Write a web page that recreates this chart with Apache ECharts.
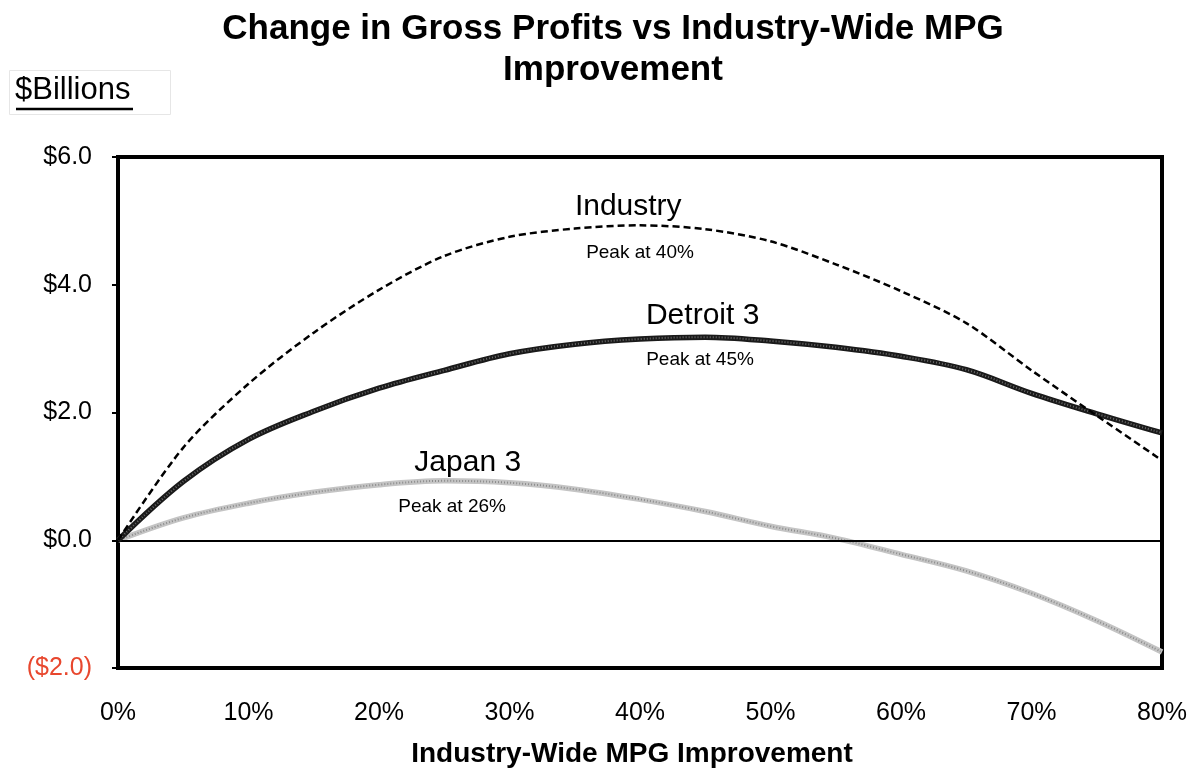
<!DOCTYPE html>
<html>
<head>
<meta charset="utf-8">
<script src="https://cdn.jsdelivr.net/npm/echarts@6/dist/echarts.min.js"></script>
<style>
html,body{margin:0;padding:0;background:#fff;}
#chart{width:1194px;height:770px;}
</style>
</head>
<body>
<div id="chart"></div>
<script>
// ---- data ----
const mpgImprovement = [0, 5, 10, 15, 20, 25, 30, 35, 40, 45, 50, 55, 60, 65, 70, 75, 80];
const industry = [0, 1.45, 2.45, 3.25, 3.92, 4.45, 4.75, 4.88, 4.93, 4.87, 4.68, 4.32, 3.9, 3.4, 2.66, 1.95, 1.25];
const detroit3 = [0, 0.92, 1.58, 2.02, 2.38, 2.66, 2.92, 3.07, 3.15, 3.18, 3.12, 3.02, 2.88, 2.67, 2.3, 1.98, 1.68];
const japan3 = [0, 0.35, 0.58, 0.75, 0.87, 0.93, 0.9, 0.8, 0.64, 0.45, 0.22, 0.03, -0.22, -0.48, -0.83, -1.26, -1.75];
const yTicks = [-2, 0, 2, 4, 6];
const xTicks = [0, 10, 20, 30, 40, 50, 60, 70, 80];
// annotation text anchored in data units [x %, y $B]
const annotations = [
  { text: 'Industry', at: [39.1, 5.22], big: true },
  { text: 'Peak at 40%', at: [40, 4.5], big: false },
  { text: 'Detroit 3', at: [44.8, 3.52], big: true },
  { text: 'Peak at 45%', at: [44.6, 2.83], big: false },
  { text: 'Japan 3', at: [26.8, 1.22], big: true },
  { text: 'Peak at 26%', at: [25.6, 0.53], big: false }
];

const FONT = '"Liberation Sans", Arial, sans-serif';
const pairs = arr => mpgImprovement.map((x, i) => [x, arr[i]]);

const chart = echarts.init(document.getElementById('chart'), null, { renderer: 'canvas' });

const option = {
  animation: false,
  backgroundColor: '#fff',
  title: {
    text: 'Change in Gross Profits vs Industry-Wide MPG\nImprovement',
    left: 608, top: 4, textAlign: 'center',
    textStyle: { fontFamily: FONT, fontSize: 35, fontWeight: 'bold', color: '#000', lineHeight: 41 }
  },
  grid: { left: 118, right: 32, top: 157, bottom: 102, show: true, borderColor: '#000', borderWidth: 4, containLabel: false, outerBoundsMode: 'none' },
  xAxis: {
    type: 'value', min: 0, max: 80, interval: 10,
    name: 'Industry-Wide MPG Improvement', nameLocation: 'middle', nameGap: 72,
    nameTextStyle: { fontFamily: FONT, fontSize: 28, fontWeight: 'bold', color: '#000', padding: [0, 16, 0, 0] },
    axisLine: { show: false }, axisTick: { show: false }, splitLine: { show: false },
    axisLabel: { formatter: v => v + '%', fontFamily: FONT, fontSize: 25, color: '#000', margin: 33 }
  },
  yAxis: {
    type: 'value', min: yTicks[0], max: yTicks[yTicks.length - 1], interval: 2,
    axisLine: { show: false },
    axisTick: { show: true, length: 6, lineStyle: { color: '#000', width: 2 } },
    splitLine: { show: false },
    axisLabel: {
      fontFamily: FONT, fontSize: 25, color: '#000', margin: 26,
      formatter: v => v < 0 ? '{neg|($' + (-v).toFixed(1) + ')}' : '$' + v.toFixed(1),
      rich: { neg: { color: '#e8472e', fontFamily: FONT, fontSize: 25 } }
    }
  },
  graphic: [
    { type: 'rect', left: 9, top: 70, shape: { width: 161, height: 44 }, style: { fill: '#fff', stroke: '#e6e6e6', lineWidth: 1 }, z: 1 },
    { type: 'text', left: 15, top: 75, style: { text: '$Billions', font: '31px ' + FONT, fill: '#000' }, z: 2 },
    { type: 'line', shape: { x1: 16, y1: 109, x2: 133, y2: 109 }, style: { stroke: '#000', lineWidth: 2.5 }, z: 2 }
  ],
  series: [
    {
      name: 'Zero', type: 'line', data: [], silent: true,
      markLine: { symbol: 'none', silent: true, label: { show: false }, data: [{ yAxis: 0 }], lineStyle: { color: '#000', width: 2, type: 'solid' } }
    },
    {
      name: 'Japan 3', type: 'line', data: pairs(japan3), smooth: 0.35, showSymbol: false, z: 3,
      lineStyle: { color: '#c4c4c4', width: 5.5 }
    },
    {
      name: 'Japan 3 texture', type: 'line', data: pairs(japan3), smooth: 0.35, showSymbol: false, z: 4,
      lineStyle: { color: '#8c8c8c', width: 2, type: [1, 2] }
    },
    {
      name: 'Detroit 3', type: 'line', data: pairs(detroit3), smooth: 0.35, showSymbol: false, z: 5,
      lineStyle: { color: '#1a1a1a', width: 5.5 }
    },
    {
      name: 'Detroit 3 texture', type: 'line', data: pairs(detroit3), smooth: 0.35, showSymbol: false, z: 6,
      lineStyle: { color: '#6a6a6a', width: 2, type: [1, 2] }
    },
    {
      name: 'Industry', type: 'line', data: pairs(industry), smooth: 0.3, showSymbol: false, z: 7,
      lineStyle: { color: '#000', width: 2.5, type: [7, 4] }
    },
    {
      name: 'Labels', type: 'scatter', symbolSize: 0, z: 10, silent: true,
      data: annotations.map(a => ({
        value: a.at,
        label: {
          show: true, position: 'inside', formatter: a.text,
          fontFamily: FONT, fontSize: a.big ? 30 : 19, color: '#000', opacity: 1
        }
      }))
    }
  ]
};
chart.setOption(option);
</script>
</body>
</html>
